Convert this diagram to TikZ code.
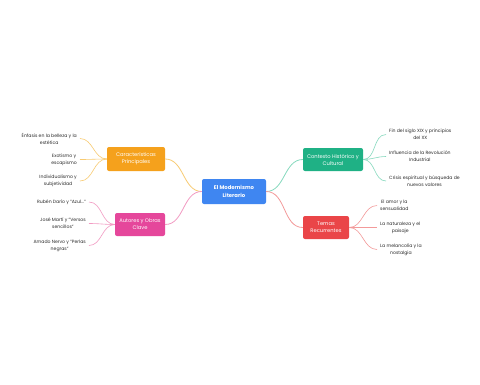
\documentclass[tikz,border=0pt]{standalone}
\usepackage{fontspec}
\setmainfont{Poppins}
\usepackage{tikz}
\usetikzlibrary{arrows.meta,positioning}
\definecolor{mBlue}{HTML}{3F86F1}
\definecolor{mOrange}{HTML}{F5A11C}
\definecolor{mOrangeLt}{HTML}{F8CB72}
\definecolor{mPink}{HTML}{E5479B}
\definecolor{mPinkLt}{HTML}{F29AC2}
\definecolor{mGreen}{HTML}{1FB185}
\definecolor{mGreenLt}{HTML}{86D9BE}
\definecolor{mRed}{HTML}{EA4548}
\definecolor{mRedLt}{HTML}{F39A9A}
\definecolor{leafInk}{HTML}{2B2B2B}
\tikzset{
  topic/.style   = {rounded corners=2pt, text=white, align=center,
                    inner sep=0pt, font=\fontsize{5.2}{7}\selectfont},
  mainbox/.style = {topic, fill=mBlue, minimum width=64pt, minimum height=25pt,
                    font=\fontsize{5.3}{8}\selectfont\bfseries},
  leaf/.style    = {align=center, text=leafInk, inner sep=3pt,
                    font=\fontsize{4.6}{7}\selectfont},
  lnk/.style     = {line width=0.6pt, out=180, in=0},
  rnk/.style     = {line width=0.6pt, out=0, in=180},
}
\begin{document}
\begin{tikzpicture}[x=1pt, y=-1pt]
  \useasboundingbox[fill=white] (0,0) rectangle (480,384);
  % centre and main topics
  \node[mainbox] (core) at (234,191.5) {El Modernismo\\Literario};
  \node[topic, fill=mOrange, minimum width=58pt, minimum height=24pt]
    (carac) at (136,159) {Características\\Principales};
  \node[topic, fill=mPink, minimum width=50pt, minimum height=23pt]
    (autor) at (140,224.5) {Autores y Obras\\Clave};
  \node[topic, fill=mGreen, minimum width=60pt, minimum height=23pt]
    (contx) at (333,159.5) {Contexto Histórico y\\Cultural};
  \node[topic, fill=mRed, minimum width=46pt, minimum height=23pt]
    (temas) at (326,227.5) {Temas\\Recurrentes};
  \draw[lnk, draw=mOrangeLt, line width=0.8pt] (core.west) to (carac.east);
  \draw[lnk, draw=mPinkLt,   line width=0.8pt] (core.west) to (autor.east);
  \draw[rnk, draw=mGreenLt,  line width=0.8pt] (core.east) to (contx.west);
  \draw[rnk, draw=mRedLt,    line width=0.8pt] (core.east) to (temas.west);
  % left leaves
  \node[leaf, anchor=east] (c1) at (80,138.5) {Énfasis en la belleza y la\\estética};
  \node[leaf, anchor=east] (c2) at (80,159.5) {Exotismo y\\escapismo};
  \node[leaf, anchor=east] (c3) at (80,181) {Individualismo y\\subjetividad};
  \node[leaf, anchor=east] (a1) at (89,202) {Rubén Darío y "Azul..."};
  \node[leaf, anchor=east] (a2) at (89,223.5) {José Martí y "Versos\\sencillos"};
  \node[leaf, anchor=east] (a3) at (89,245.5) {Amado Nervo y "Perlas\\negras"};
  \foreach \n in {c1,c2,c3}
    \draw[lnk, draw=mOrangeLt] (carac.west) to (\n.east);
  \foreach \n in {a1,a2,a3}
    \draw[lnk, draw=mPinkLt] (autor.west) to (\n.east);
  % right leaves
  \node[leaf, anchor=west] (h1) at (386,134.5) {Fin del siglo XIX y principios\\del XX};
  \node[leaf, anchor=west] (h2) at (386,156.5) {Influencia de la Revolución\\Industrial};
  \node[leaf, anchor=west] (h3) at (386,181) {Crisis espiritual y búsqueda de\\nuevos valores};
  \node[leaf, anchor=west] (t1) at (377,205.5) {El amor y la\\sensualidad};
  \node[leaf, anchor=west] (t2) at (377,227.5) {La naturaleza y el\\paisaje};
  \node[leaf, anchor=west] (t3) at (377,249.5) {La melancolía y la\\nostalgia};
  \foreach \n in {h1,h2,h3}
    \draw[rnk, draw=mGreenLt] (contx.east) to (\n.west);
  \foreach \n in {t1,t2,t3}
    \draw[rnk, draw=mRedLt] (temas.east) to (\n.west);
\end{tikzpicture}
\end{document}
